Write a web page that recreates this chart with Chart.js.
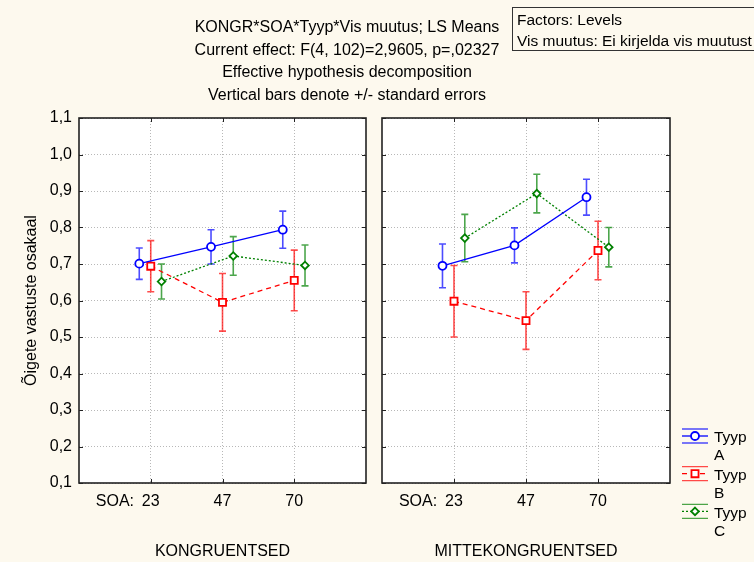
<!DOCTYPE html>
<html>
<head>
<meta charset="utf-8">
<script src="https://cdn.jsdelivr.net/npm/chart.js@4.4.0/dist/chart.umd.min.js"></script>
<style>
  html, body { margin: 0; padding: 0; background: #fdf9ee; }
  #wrap { position: relative; width: 754px; height: 562px; background: #fdf9ee; overflow: hidden;
          font-family: 'Liberation Sans', Arial, sans-serif; color: #000; }
  #wrap canvas { position: absolute; left: 0; top: 0; }
  #head { position: absolute; left: 147px; top: 16px; width: 400px; text-align: center;
          font-size: 16px; line-height: 22.5px; white-space: nowrap; }
  #factors { position: absolute; left: 512px; top: 7px; width: 260px; height: 44px; box-sizing: border-box;
             border: 1px solid #333; font-size: 15.5px; line-height: 21px; padding: 1px 0 0 4px; white-space: nowrap; }
</style>
</head>
<body>
<div id="wrap">
  <canvas id="kong" width="754" height="562"></canvas>
  <canvas id="mitte" width="754" height="562"></canvas>
  <div id="head">
    KONGR*SOA*Tyyp*Vis muutus; LS Means<br>
    Current effect: F(4, 102)=2,9605, p=,02327<br>
    Effective hypothesis decomposition<br>
    Vertical bars denote +/- standard errors
  </div>
  <div id="factors">Factors: Levels<br>Vis muutus: Ei kirjelda vis muutust</div>
</div>
<script>
// SOA levels and y tick values
const soa = ['23', '47', '70'];
const yTickValues = [0.1, 0.2, 0.3, 0.4, 0.5, 0.6, 0.7, 0.8, 0.9, 1.0, 1.1];
const typeNames = ['A', 'B', 'C'];

// KONGRUENTSED: LS means and standard errors
const kongA = [0.701, 0.747, 0.794];
const kongB = [0.694, 0.595, 0.655];
const kongC = [0.652, 0.722, 0.696];
const kongAse = [0.043, 0.047, 0.051];
const kongBse = [0.070, 0.079, 0.083];
const kongCse = [0.048, 0.053, 0.056];

// MITTEKONGRUENTSED
const mitteA = [0.695, 0.751, 0.883];
const mitteB = [0.598, 0.545, 0.737];
const mitteC = [0.771, 0.893, 0.746];
const mitteAse = [0.060, 0.048, 0.049];
const mitteBse = [0.098, 0.079, 0.080];
const mitteCse = [0.065, 0.053, 0.054];

const colors = ['#0000ff', '#ff0000', '#008000'];
const dashes = [[], [5, 4], [2, 2]];
const markers = ['circle', 'rect', 'rectRot'];
const radii = [4, 5, 3.8];
const shift = [-0.16, 0, 0.15];

Chart.defaults.font.family = "'Liberation Sans', Arial, sans-serif";
Chart.defaults.font.size = 16;
Chart.defaults.color = '#000';

const plotBg = {
  id: 'plotBg',
  beforeDraw(chart) {
    const a = chart.chartArea, ctx = chart.ctx;
    ctx.save();
    ctx.fillStyle = '#ffffff';
    ctx.fillRect(a.left, a.top, a.right - a.left, a.bottom - a.top);
    ctx.restore();
  }
};

const frame = {
  id: 'frame',
  afterDraw(chart) {
    const a = chart.chartArea, ctx = chart.ctx;
    const xs = chart.scales.x, ys = chart.scales.y;
    ctx.save();
    ctx.strokeStyle = '#222';
    ctx.lineWidth = 1.6;
    ctx.strokeRect(a.left, a.top, a.right - a.left, a.bottom - a.top);
    ctx.lineWidth = 1;
    ctx.beginPath();
    yTickValues.forEach(v => {
      const y = Math.round(ys.getPixelForValue(v)) + 0.5;
      ctx.moveTo(a.left, y); ctx.lineTo(a.left + 4, y);
      ctx.moveTo(a.right, y); ctx.lineTo(a.right - 4, y);
    });
    soa.forEach((s, i) => {
      const x = Math.round(xs.getPixelForValue(i + 1)) + 0.5;
      ctx.moveTo(x, a.bottom); ctx.lineTo(x, a.bottom - 4);
      ctx.moveTo(x, a.top); ctx.lineTo(x, a.top + 4);
    });
    ctx.stroke();
    ctx.restore();
  }
};

const errorBars = {
  id: 'errorBars',
  beforeDatasetsDraw(chart) {
    const ctx = chart.ctx, ys = chart.scales.y;
    ctx.save();
    chart.data.datasets.forEach((ds, i) => {
      const meta = chart.getDatasetMeta(i);
      ctx.strokeStyle = ds.borderColor;
      ctx.globalAlpha = 0.7;
      ctx.lineWidth = 1.6;
      ctx.setLineDash([]);
      meta.data.forEach((pt, j) => {
        const m = ds.data[j].y, e = ds.se[j];
        const y1 = ys.getPixelForValue(m + e), y2 = ys.getPixelForValue(m - e);
        ctx.beginPath();
        ctx.moveTo(pt.x, y1); ctx.lineTo(pt.x, y2);
        ctx.moveTo(pt.x - 3.5, y1); ctx.lineTo(pt.x + 3.5, y1);
        ctx.moveTo(pt.x - 3.5, y2); ctx.lineTo(pt.x + 3.5, y2);
        ctx.stroke();
      });
    });
    ctx.restore();
  }
};

function marker(ctx, style, x, y, r) {
  ctx.beginPath();
  if (style === 'circle') {
    ctx.arc(x, y, r, 0, Math.PI * 2);
  } else if (style === 'rect') {
    const s = r * Math.SQRT1_2;
    ctx.rect(x - s, y - s, 2 * s, 2 * s);
  } else {
    ctx.moveTo(x, y - r); ctx.lineTo(x + r, y); ctx.lineTo(x, y + r); ctx.lineTo(x - r, y); ctx.closePath();
  }
  ctx.fill();
  ctx.stroke();
}

const sideLegend = {
  id: 'sideLegend',
  afterDraw(chart) {
    const ctx = chart.ctx, a = chart.chartArea;
    const x0 = a.right + 12, x1 = a.right + 38, xc = (x0 + x1) / 2;
    ctx.save();
    chart.data.datasets.forEach((ds, i) => {
      const y = a.bottom - 47 + i * 37.7;
      ctx.strokeStyle = ds.borderColor;
      ctx.lineWidth = 1.3;
      ctx.globalAlpha = 0.7;
      ctx.setLineDash([]);
      ctx.beginPath();
      ctx.moveTo(x0, y - 7); ctx.lineTo(x1, y - 7);
      ctx.moveTo(x0, y + 7); ctx.lineTo(x1, y + 7);
      ctx.stroke();
      ctx.globalAlpha = 1;
      ctx.setLineDash(ds.borderDash);
      ctx.beginPath();
      ctx.moveTo(x0, y); ctx.lineTo(x1, y);
      ctx.stroke();
      ctx.setLineDash([]);
      ctx.lineWidth = 1.8;
      ctx.fillStyle = '#fff';
      marker(ctx, ds.pointStyle, xc, y, ds.pointRadius);
      const parts = ds.label.split(' ');
      ctx.fillStyle = '#000';
      ctx.font = "15.5px 'Liberation Sans', Arial, sans-serif";
      ctx.textBaseline = 'middle';
      ctx.textAlign = 'left';
      ctx.fillText(parts[0], a.right + 44, y + 2);
      ctx.fillText(parts[1], a.right + 44, y + 20);
    });
    ctx.restore();
  }
};

function makeChart(id, means, errs, xTitle, isLeft) {
  const datasets = means.map((vals, i) => ({
    label: 'Tyyp ' + typeNames[i],
    data: vals.map((v, j) => ({ x: j + 1 + shift[i], y: v })),
    se: errs[i],
    borderColor: colors[i],
    backgroundColor: '#ffffff',
    pointBackgroundColor: '#ffffff',
    pointBorderColor: colors[i],
    borderWidth: 1.3,
    borderDash: dashes[i],
    pointStyle: markers[i],
    pointRadius: radii[i],
    pointBorderWidth: 1.8,
    showLine: true,
    fill: false,
    tension: 0
  }));

  return new Chart(document.getElementById(id), {
    type: 'scatter',
    data: { datasets: datasets },
    options: {
      responsive: false,
      animation: false,
      events: [],
      layout: {
        padding: isLeft ? { left: 0, right: 388, top: 118, bottom: 0 }
                        : { left: 382, right: 84, top: 118, bottom: 0 }
      },
      plugins: {
        legend: { display: false },
        tooltip: { enabled: false }
      },
      scales: {
        x: {
          type: 'linear',
          min: 0,
          max: 4,
          afterBuildTicks: s => { s.ticks = [0.5, 1, 2, 3].map(v => ({ value: v })); },
          afterFit: s => { s.height = 79; },
          ticks: {
            padding: 9,
            maxRotation: 0,
            callback: v => v === 0.5 ? 'SOA:' : soa[v - 1]
          },
          grid: {
            drawTicks: false,
            color: c => (c.tick && c.tick.value === 0.5) ? 'rgba(0,0,0,0)' : '#b8b8b8'
          },
          border: { display: false, dash: [1, 2] },
          title: { display: true, text: xTitle, padding: { top: 0, bottom: 1 } }
        },
        y: {
          min: 0.1,
          max: 1.1,
          afterBuildTicks: s => { s.ticks = yTickValues.map(v => ({ value: v })); },
          afterFit: s => { s.width = isLeft ? 79 : 0; },
          ticks: {
            display: isLeft,
            padding: 7,
            callback: v => v.toFixed(1).replace('.', ',')
          },
          grid: { drawTicks: false, color: '#b8b8b8' },
          border: { display: false, dash: [1, 2] },
          title: { display: isLeft, text: 'Õigete vastuste osakaal', padding: { top: 22, bottom: 0 } }
        }
      }
    },
    plugins: isLeft ? [plotBg, errorBars, frame] : [plotBg, errorBars, frame, sideLegend]
  });
}

makeChart('kong', [kongA, kongB, kongC], [kongAse, kongBse, kongCse], 'KONGRUENTSED', true);
makeChart('mitte', [mitteA, mitteB, mitteC], [mitteAse, mitteBse, mitteCse], 'MITTEKONGRUENTSED', false);
</script>
</body>
</html>
